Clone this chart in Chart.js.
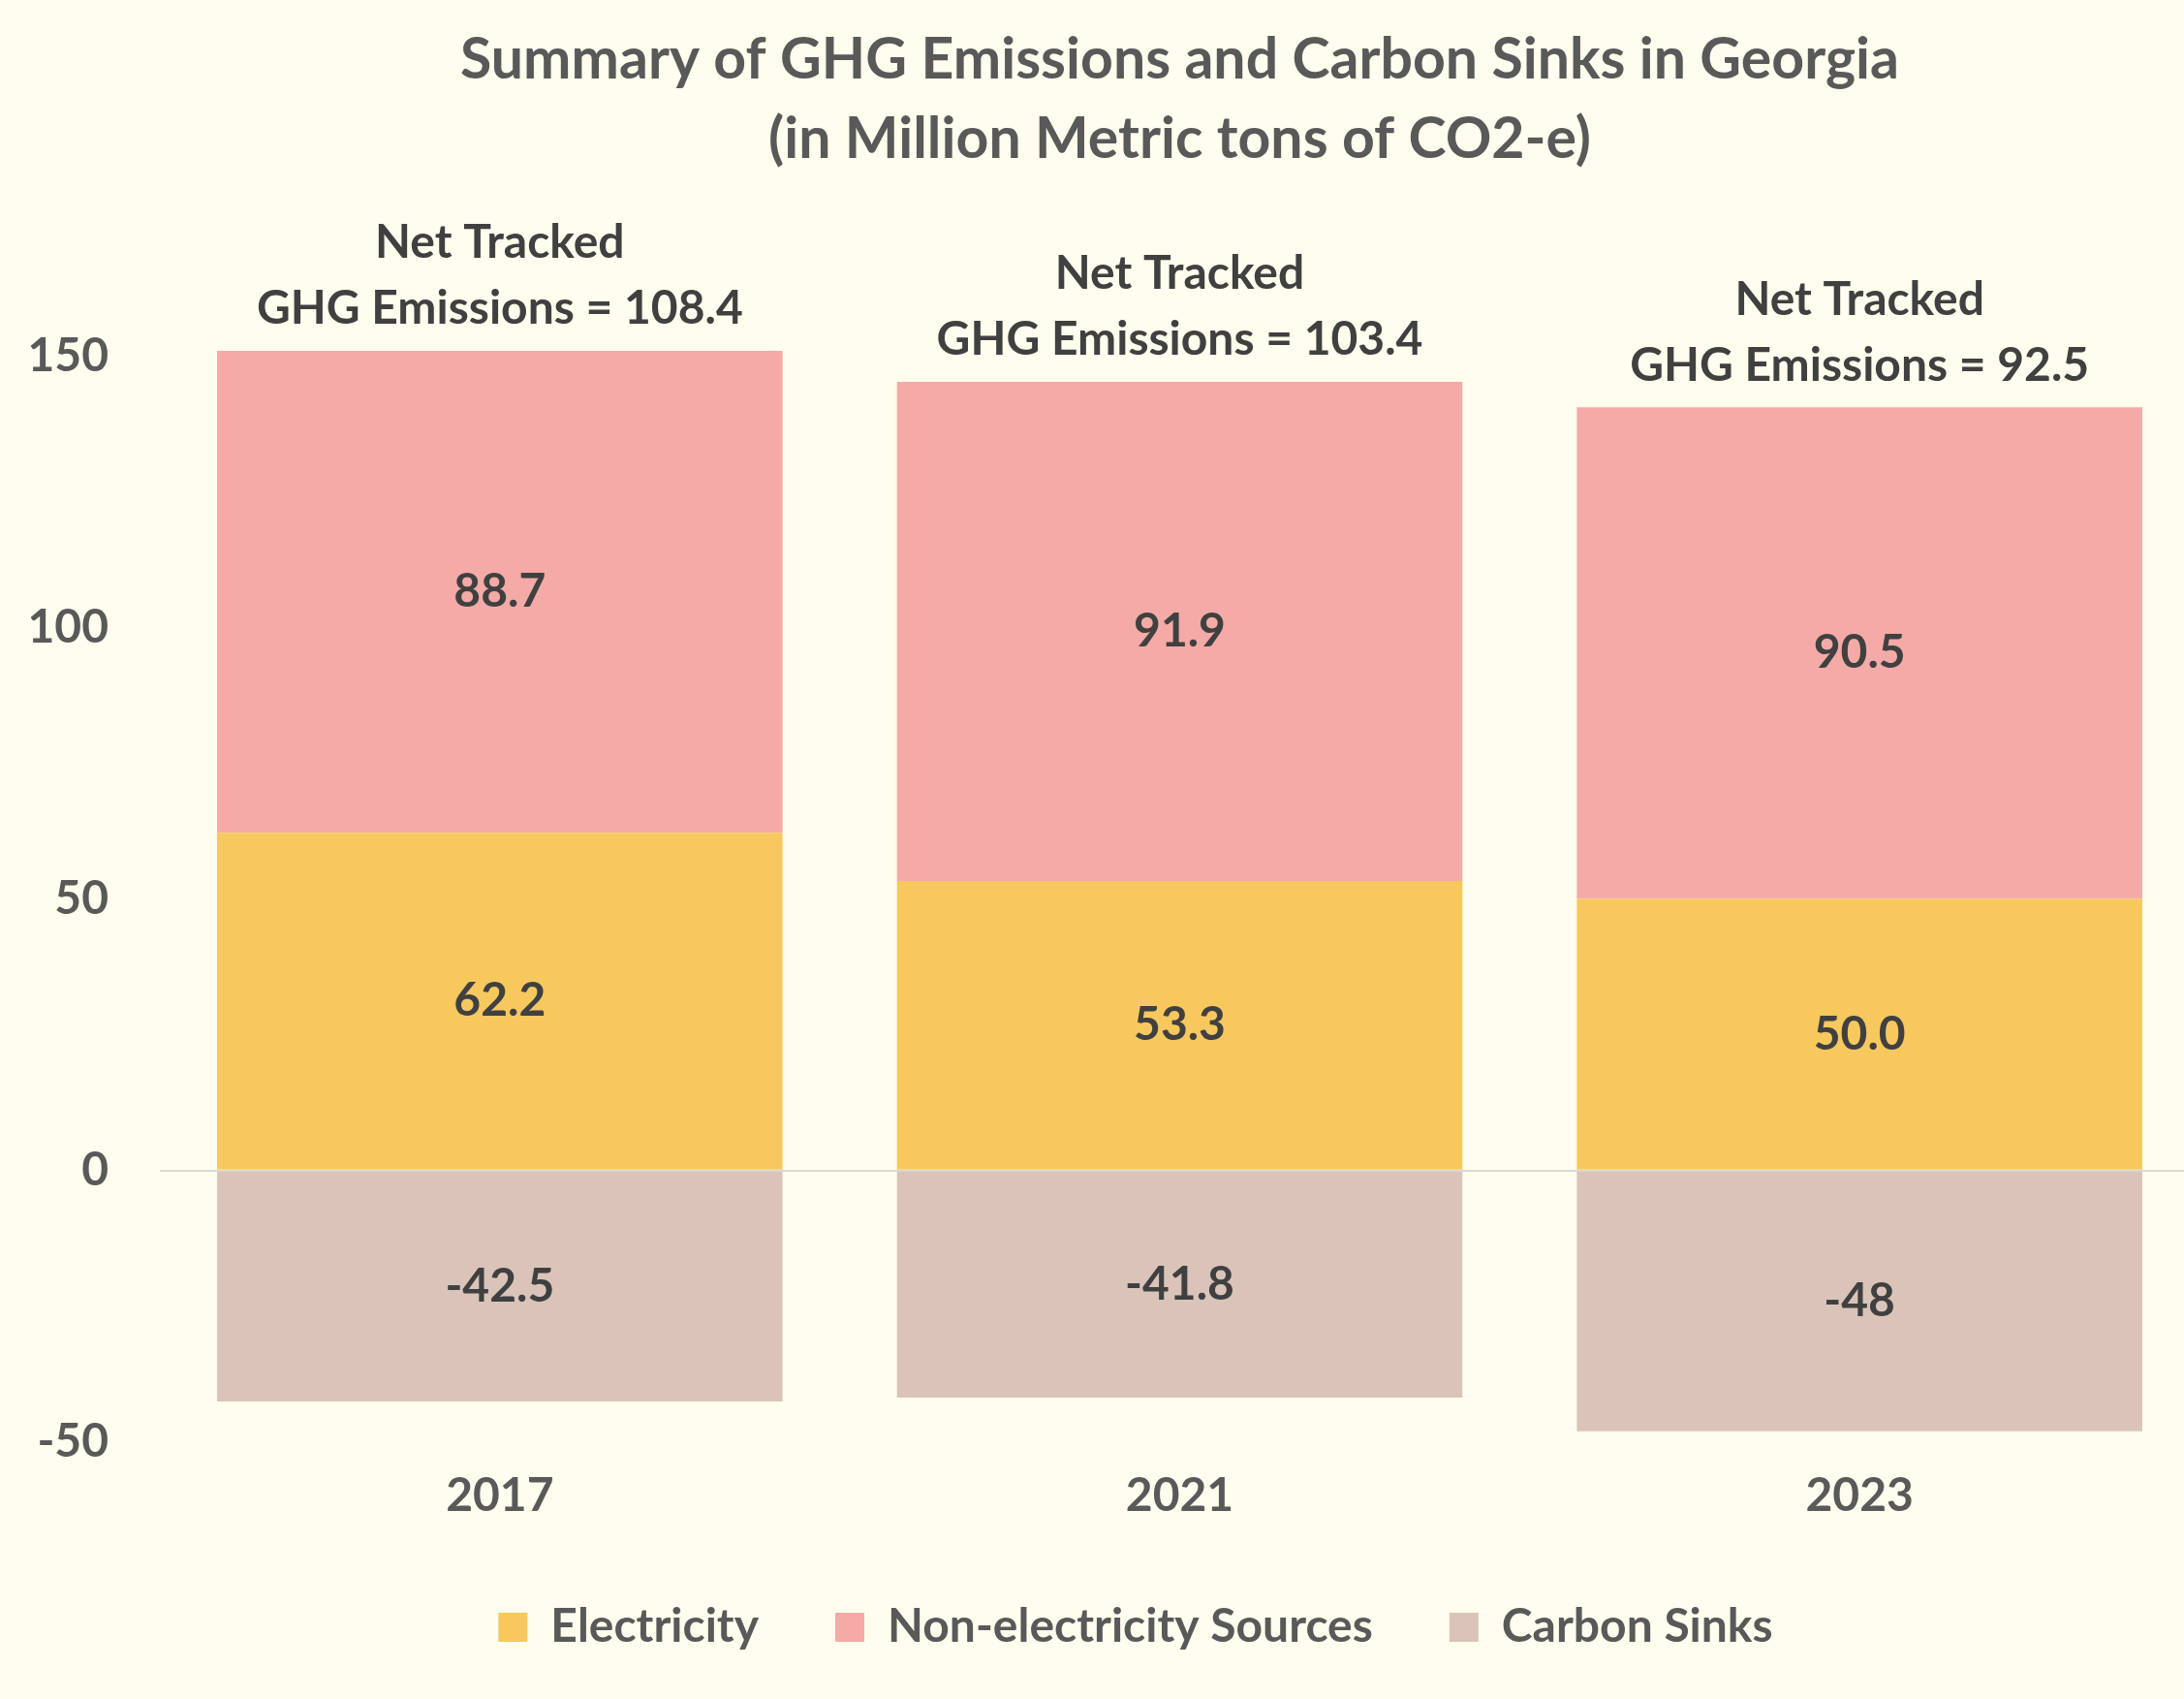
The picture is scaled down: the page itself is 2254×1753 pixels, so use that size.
<!DOCTYPE html>
<html>
<head>
<meta charset="utf-8">
<script src="https://cdn.jsdelivr.net/npm/chart.js@4.4.1/dist/chart.umd.min.js"></script>
<style>
  html, body { margin: 0; padding: 0; background: #FFFDED; overflow: hidden; }
  canvas { display: block; }
</style>
</head>
<body>
<canvas id="c" width="2270" height="1753"></canvas>
<script>
// ---- data ----
const categories = ['2017', '2021', '2023'];
const electricity = [62.2, 53.3, 50.0];
const nonElectricity = [88.7, 91.9, 90.5];
const carbonSinks = [-42.5, -41.8, -48];
const seriesNames = ['Electricity', 'Non-electricity Sources', 'Carbon Sinks'];
const yTicks = [-50, 0, 50, 100, 150];
const titleLines = ['Summary of GHG Emissions and Carbon Sinks in Georgia', '(in Million Metric tons of CO2-e)'];

Chart.defaults.font.family = 'Lato';
Chart.defaults.font.weight = 'bold';

const labelPlugin = {
  id: 'valueLabels',
  afterLayout(chart) {
    // nudge the legend to the reference's horizontal centre
    if (chart.legend) { chart.legend.left += 37; chart.legend.right += 37; }
  },
  afterDatasetsDraw(chart) {
    const ctx = chart.ctx;
    ctx.save();
    ctx.font = 'bold 48px Lato';
    ctx.fillStyle = '#404040';
    ctx.textAlign = 'center';
    ctx.textBaseline = 'middle';
    chart.data.datasets.forEach((ds, di) => {
      const meta = chart.getDatasetMeta(di);
      meta.data.forEach((el, i) => {
        const v = ds.data[i];
        const txt = di === 2 ? String(v) : v.toFixed(1);
        ctx.fillText(txt, el.x, (el.y + el.base) / 2);
      });
    });
    // net tracked labels above each bar
    const topMeta = chart.getDatasetMeta(1);
    topMeta.data.forEach((el, i) => {
      const net = electricity[i] + nonElectricity[i] + carbonSinks[i];
      const y2 = el.y - 43;
      ctx.fillText('Net Tracked', el.x, y2 - 68);
      ctx.fillText('GHG Emissions = ' + net.toFixed(1), el.x, y2);
    });
    ctx.restore();
  }
};

new Chart(document.getElementById('c'), {
  type: 'bar',
  data: {
    labels: categories,
    datasets: [
      { label: seriesNames[0], data: electricity, backgroundColor: '#F6C85E', borderWidth: 0, clip: false },
      { label: seriesNames[1], data: nonElectricity, backgroundColor: '#F4AAA6', borderWidth: 0, clip: false },
      { label: seriesNames[2], data: carbonSinks, backgroundColor: '#DAC4BA', borderWidth: 0, clip: false }
    ]
  },
  options: {
    responsive: false,
    animation: false,
    layout: { padding: { left: 0, right: 0, top: 0, bottom: 40 } },
    datasets: { bar: { categoryPercentage: 1.0, barPercentage: 0.8317 } },
    plugins: {
      title: {
        display: true,
        text: titleLines,
        fullSize: false,
        color: '#595959',
        font: { size: 59, weight: 'bold', lineHeight: 1.39 },
        padding: { top: 21, bottom: 182 }
      },
      legend: {
        position: 'bottom',
        labels: {
          color: '#595959',
          font: { size: 48, weight: 'bold' },
          boxWidth: 30,
          boxHeight: 30,
          padding: 79
        }
      },
      tooltip: { enabled: false }
    },
    scales: {
      x: {
        stacked: true,
        grid: { display: false, drawTicks: false },
        border: { display: false },
        ticks: { color: '#595959', font: { size: 48, weight: 'bold' }, padding: 27 },
        afterFit(s) { s.height = 88; }
      },
      y: {
        stacked: true,
        min: -50,
        max: 150,
        z: 1,
        afterBuildTicks(s) { s.ticks = yTicks.map(v => ({ value: v })); },
        grid: {
          drawTicks: false,
          lineWidth: 2,
          color: (c) => (c.tick && c.tick.value === 0 ? '#D9D9D9' : 'rgba(0,0,0,0)')
        },
        border: { display: false },
        ticks: { color: '#595959', font: { size: 48, weight: 'bold' }, padding: 53 },
        afterFit(s) { s.width = 165; }
      }
    }
  },
  plugins: [labelPlugin]
});
</script>
</body>
</html>
